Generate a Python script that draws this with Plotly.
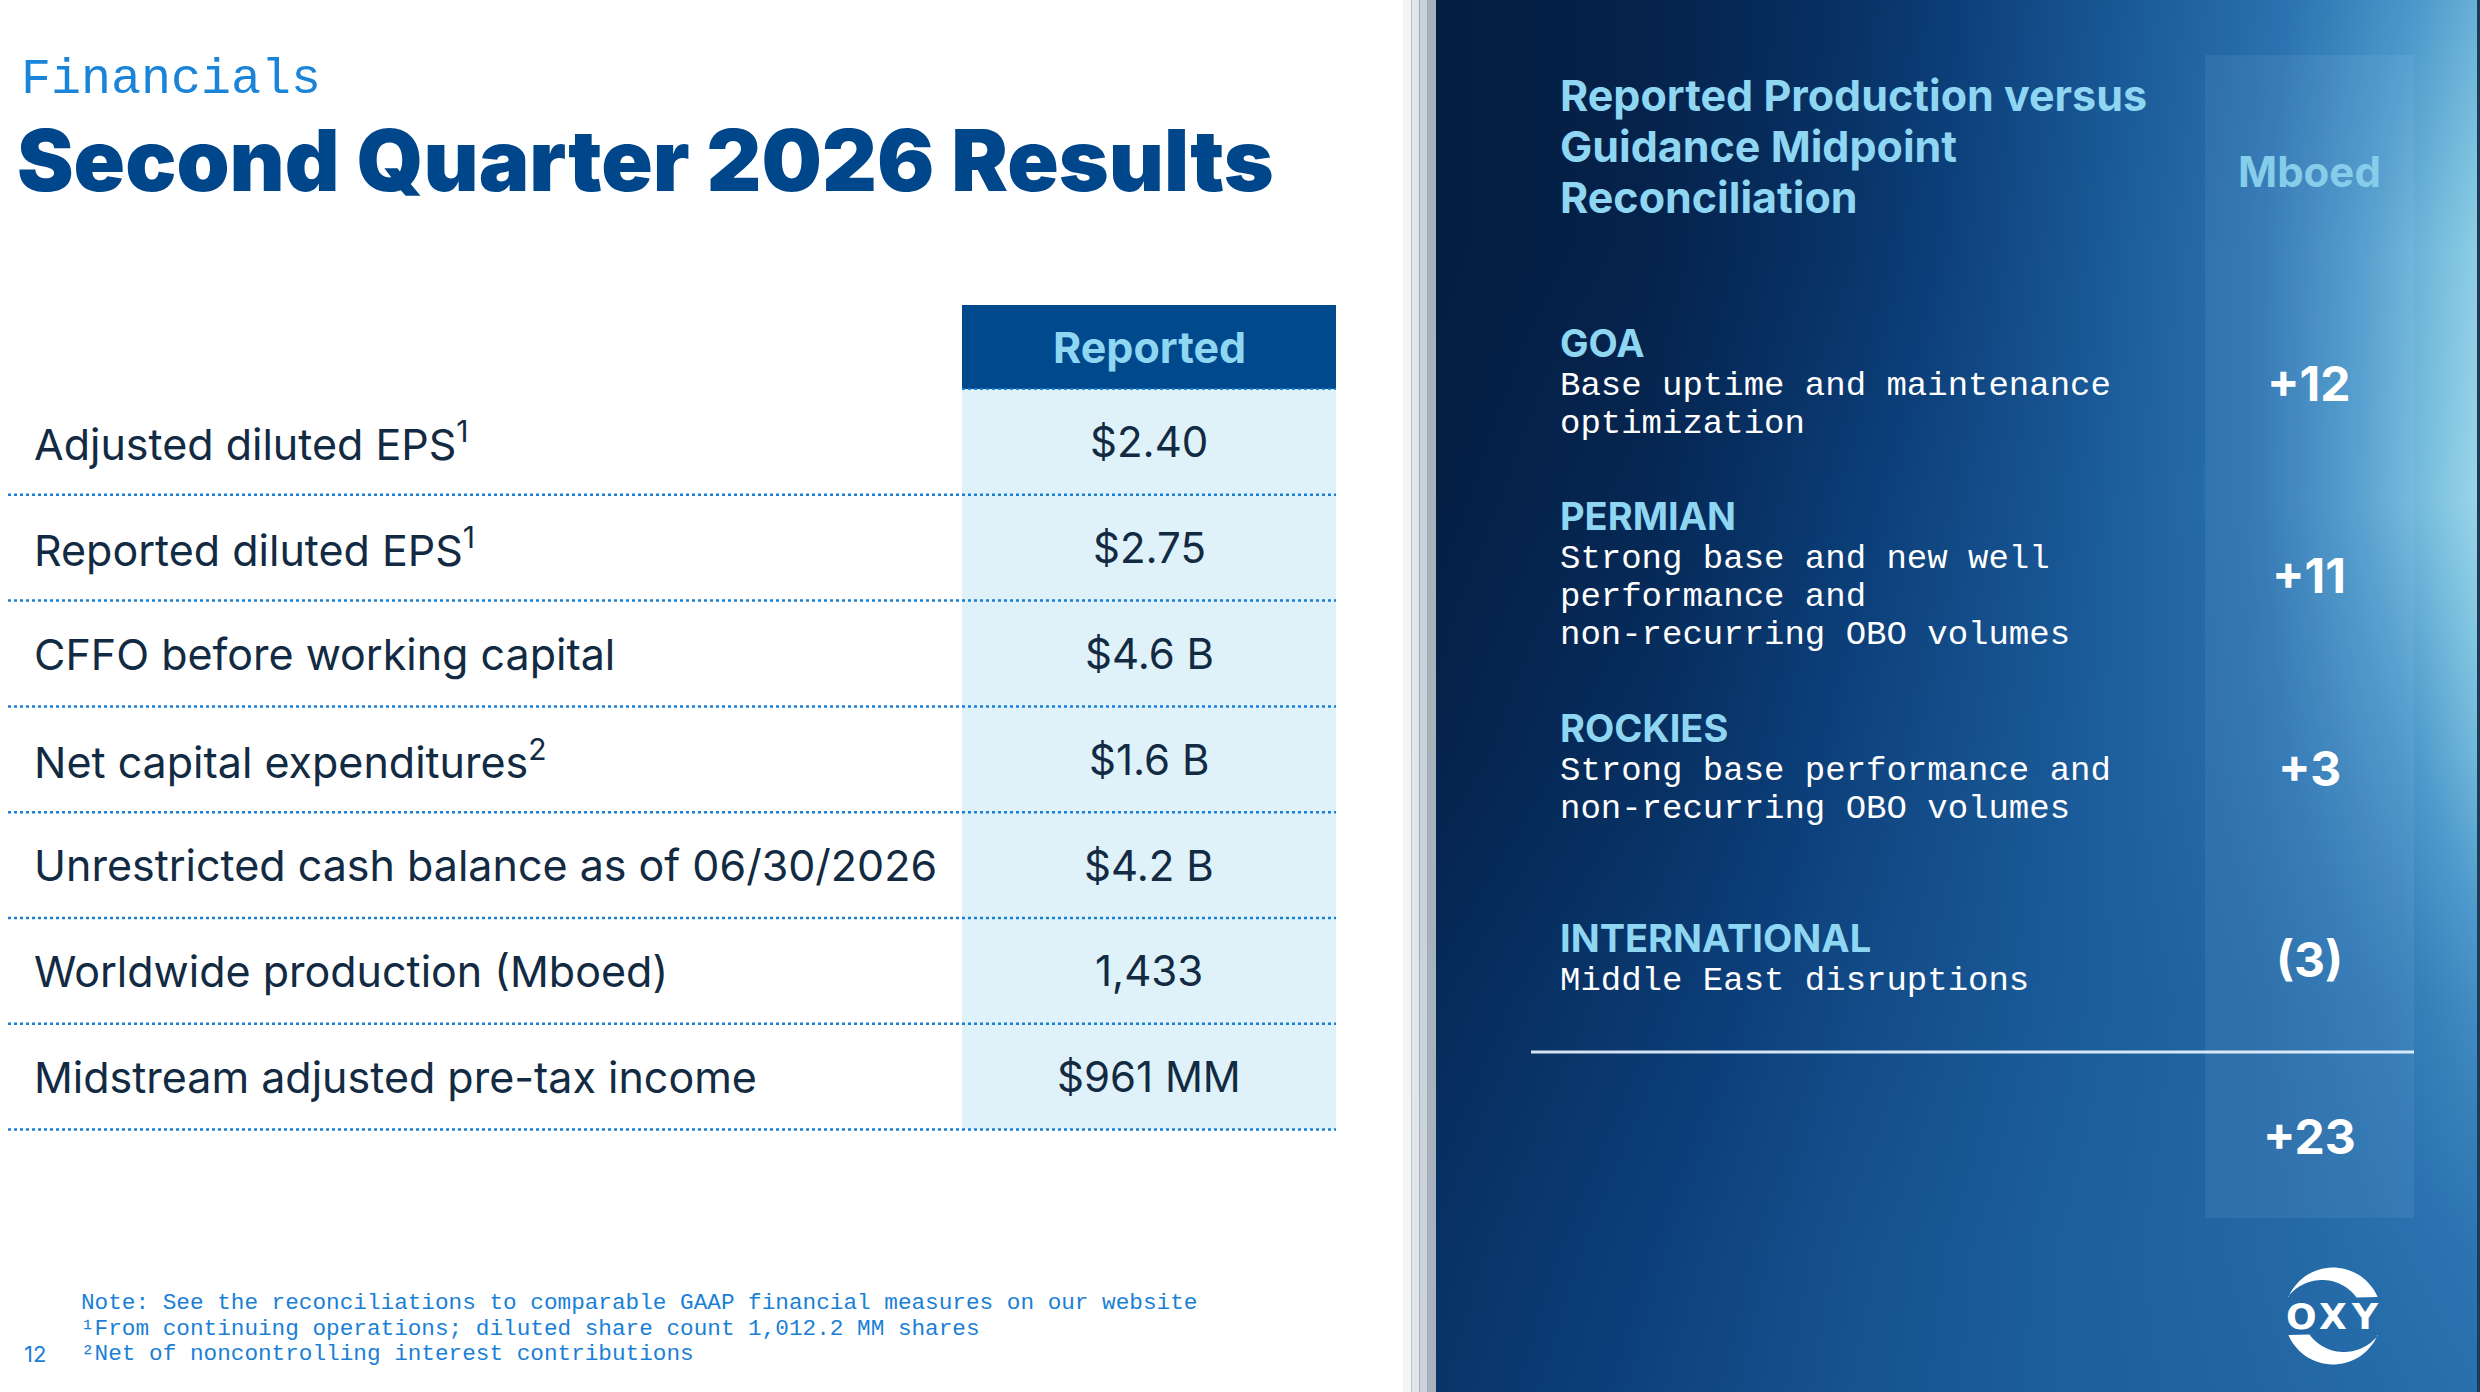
import numpy as np
import plotly.graph_objects as go

W, H = 2480, 1392

# tabela da esquerda
METRICS = [
    "Adjusted diluted EPS<sup>1</sup>",
    "Reported diluted EPS<sup>1</sup>",
    "CFFO before working capital",
    "Net capital expenditures<sup>2</sup>",
    "Unrestricted cash balance as of 06/30/2026",
    "Worldwide production (Mboed)",
    "Midstream adjusted pre-tax income",
]
REPORTED = ["$2.40", "$2.75", "$4.6 B", "$1.6 B", "$4.2 B", "1,433", "$961 MM"]

# painel da direita
REGIONS = ["GOA", "PERMIAN", "ROCKIES", "INTERNATIONAL"]
REGION_NOTES = [
    ["Base uptime and maintenance", "optimization"],
    ["Strong base and new well", "performance and", "non-recurring OBO volumes"],
    ["Strong base performance and", "non-recurring OBO volumes"],
    ["Middle East disruptions"],
]
REGION_MBOED = ["+12", "+11", "+3", "(3)"]
TOTAL_MBOED = "+23"

PANEL_TITLE = ["Reported Production versus", "Guidance Midpoint", "Reconciliation"]
FOOTNOTES = [
    "Note: See the reconciliations to comparable GAAP financial measures on our website",
    "\u00b9From continuing operations; diluted share count 1,012.2 MM shares",
    "\u00b2Net of noncontrolling interest contributions",
]

# cores
NAVY = "#00468b"
LIGHT = "#8fd6f2"
TXT = "#132a43"
DOT = "#1a80d6"

# layout (px)
TAB_X0, TAB_COL, TAB_X1 = 8, 962, 1336
HEAD_Y0, ROW_Y0, ROW_H = 305, 389, 105.8
BLOCK_Y = [343, 516, 728, 938]
LINE_H = 38
NUM_X = 2309

fig = go.Figure()

# fundo em degrade do painel
bg_x = [1436, 1650, 1850, 2050, 2250, 2400, 2480]
bg_y = [0, 250, 500, 750, 1000, 1250, 1392]
bg_z = [
    [0.03, 0.08, 0.20, 0.38, 0.55, 0.72, 0.82],
    [0.03, 0.08, 0.22, 0.40, 0.58, 0.80, 0.92],
    [0.05, 0.12, 0.28, 0.42, 0.58, 0.82, 0.95],
    [0.08, 0.18, 0.32, 0.44, 0.56, 0.72, 0.85],
    [0.15, 0.25, 0.36, 0.45, 0.52, 0.62, 0.70],
    [0.20, 0.30, 0.40, 0.47, 0.52, 0.57, 0.60],
    [0.22, 0.32, 0.41, 0.47, 0.51, 0.55, 0.57],
]
fig.add_trace(go.Heatmap(
    x=bg_x, y=bg_y, z=bg_z, zsmooth="best", showscale=False, hoverinfo="skip",
    zmin=0, zmax=1,
    colorscale=[[0, "#04193a"], [0.15, "#062b5a"], [0.3, "#0c3f7a"], [0.45, "#1a5a98"],
                [0.6, "#2c75b2"], [0.75, "#4f9bcc"], [0.88, "#80c4e0"], [1, "#b0e2f0"]],
))

shapes = []
def rect(x0, y0, x1, y1, color, **kw):
    shapes.append(dict(type="rect", x0=x0, y0=y0, x1=x1, y1=y1, fillcolor=color,
                       line=dict(width=0), layer="above", **kw))

# area branca e sombra da borda
rect(0, 0, 1403, H, "white")
for i, c in enumerate(["#f3f4f6", "#e2e6ea", "#cbd2d9", "#a7b2bd"]):
    rect(1403 + i * 8.25, 0, 1403 + (i + 1) * 8.25, H, c)
rect(2477, 0, W, H, "#1d3b57")

# tabela
n = len(METRICS)
rect(TAB_COL, HEAD_Y0, TAB_X1, ROW_Y0, "#00498d")
rect(TAB_COL, ROW_Y0, TAB_X1, ROW_Y0 + n * ROW_H, "#dff2fa")
shapes.append(dict(type="line", x0=TAB_COL, x1=TAB_X1, y0=ROW_Y0, y1=ROW_Y0, layer="above",
                   line=dict(color=DOT, width=2, dash="dot")))
for i in range(n):
    yb = ROW_Y0 + (i + 1) * ROW_H
    shapes.append(dict(type="line", x0=TAB_X0, x1=TAB_X1, y0=yb, y1=yb, layer="above",
                       line=dict(color=DOT, width=2.5, dash="dot")))

# coluna Mboed e separador
rect(2205, 55, 2414, 1218, "rgba(200,230,255,0.08)")
shapes.append(dict(type="line", x0=1531, x1=2414, y0=1052, y1=1052, layer="above",
                   line=dict(color="rgba(235,245,255,0.9)", width=3)))

# logo OXY
cx, cy = 2333, 1316
def arc(x0, y0, r, a0, a1, k=30):
    a = np.radians(np.linspace(a0, a1, k))
    return list(zip(x0 + r * np.cos(a), y0 - r * np.sin(a)))
top = arc(cx, cy, 48.5, 157, 23) + arc(2322, 1323, 43, 36.6, 142.6)
for sign in (1, -1):
    pts = [(cx + sign * (x - cx), cy + sign * (y - cy)) for x, y in top]
    path = "M " + " L ".join(f"{x:.1f},{y:.1f}" for x, y in pts) + " Z"
    shapes.append(dict(type="path", path=path, fillcolor="white", line=dict(width=0), layer="above"))

ann = []
def text(x, y, s, size, color, family="Inter", weight=400, xanchor="left"):
    ann.append(dict(x=x, y=y, xref="x", yref="y", text=s, showarrow=False,
                    xanchor=xanchor, yanchor="middle",
                    font=dict(family=family, size=size, color=color, weight=weight)))

text(19, 79, "Financials", 50, "#1a84d8", family="Liberation Mono")
text(15, 160, "Second Quarter 2026 Results", 85, NAVY, weight=900)
text((TAB_COL + TAB_X1) / 2, (HEAD_Y0 + ROW_Y0) / 2, "Reported", 43, LIGHT,
     weight=700, xanchor="center")
for i, (m, v) in enumerate(zip(METRICS, REPORTED)):
    yc = ROW_Y0 + (i + 0.5) * ROW_H
    text(32, yc, m, 43, TXT)
    text((TAB_COL + TAB_X1) / 2, yc, v, 42, TXT, xanchor="center")

for i, f in enumerate(FOOTNOTES):
    text(79, 1303 + i * 25.5, f, 22.7, "#1a80d6", family="Liberation Mono")
text(22, 1354, "12", 22, "#1a80d6")

for i, t in enumerate(PANEL_TITLE):
    text(1558, 95 + i * 51, t, 43, LIGHT, weight=700)
text(NUM_X, 171, "Mboed", 42, "#86cdea", weight=700, xanchor="center")

for y0, reg, notes, val in zip(BLOCK_Y, REGIONS, REGION_NOTES, REGION_MBOED):
    text(1558, y0, reg, 38, LIGHT, weight=700)
    for j, line in enumerate(notes):
        text(1558, y0 + 43 + j * LINE_H, line, 34, "white", family="Liberation Mono")
    last = y0 + 43 + (len(notes) - 1) * LINE_H
    text(NUM_X, (y0 + last) / 2, val, 48, "white", weight=700, xanchor="center")
text(NUM_X, 1136, TOTAL_MBOED, 48, "white", weight=700, xanchor="center")

for dx, ch in zip((-32, 0, 32), "OXY"):
    text(cx + dx, cy, ch, 36, "white", family="DejaVu Sans", weight=700, xanchor="center")

fig.update_layout(
    width=W, height=H, margin=dict(l=0, r=0, t=0, b=0),
    paper_bgcolor="white", plot_bgcolor="white",
    xaxis=dict(range=[0, W], visible=False, fixedrange=True),
    yaxis=dict(range=[H, 0], visible=False, fixedrange=True),
    shapes=shapes, annotations=ann, showlegend=False,
)

# tira a margem padrao do body para a figura ficar em (0,0)
fig.write_html("out.html", config={"displayModeBar": False},
               post_script="document.body.style.margin='0px';")
